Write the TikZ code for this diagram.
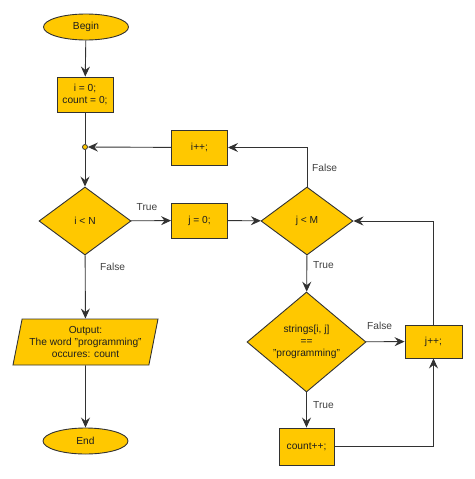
\documentclass[tikz,border=0pt]{standalone}
\usepackage{fontspec}
\setmainfont{Liberation Sans}
\usetikzlibrary{shapes.geometric,arrows.meta,calc}
\definecolor{fillY}{RGB}{255,200,0}
\definecolor{edgeC}{RGB}{50,50,50}
\definecolor{txtC}{RGB}{30,30,30}
\begin{document}
\begin{tikzpicture}[x=1pt,y=-1pt,
  every node/.style={font=\fontsize{10.2}{12.3}\selectfont, text=txtC},
  base/.style={draw=edgeC, fill=fillY, line width=0.9pt, inner sep=0pt, align=center},
  term/.style={base, ellipse, minimum width=85pt, minimum height=26pt},
  procbox/.style={base, rectangle, minimum width=56pt, minimum height=35pt},
  decide/.style={base, diamond, inner sep=-10pt},
  iobox/.style={base, trapezium, trapezium left angle=74, trapezium right angle=106, trapezium stretches body, minimum width=145pt, minimum height=46pt},
  lbl/.style={text=txtC!85, anchor=west, inner sep=0pt},
  conn/.style={draw=edgeC, line width=0.9pt, -{Stealth[length=10pt,width=9pt,inset=3.5pt]}},
  plain/.style={draw=edgeC, line width=0.9pt}
]
\useasboundingbox (0,0) rectangle (474,479);
\node[term] (begin) at (86,27) {Begin};
\node[procbox] (init) at (85,94.5) {i = 0;\\count = 0;};
\node[circle, draw=edgeC, fill=fillY, line width=0.8pt, inner sep=0pt, minimum size=5pt] (junc) at (85,147) {};
\node[decide, minimum width=92pt, minimum height=68pt] (iN) at (85,221) {i {<} N};
\node[procbox] (iinc) at (199.5,147.5) {i++;};
\node[procbox] (j0) at (199.5,220.5) {j = 0;};
\node[decide, minimum width=92pt, minimum height=68pt] (jM) at (307,221) {j {<} M};
\node[decide, minimum width=119pt, minimum height=100pt] (cmp) at (306.5,342) {strings[i, j]\\==\\"programming"};
\node[procbox, minimum width=57pt, minimum height=33pt] (jinc) at (433.5,341.5) {j++;};
\node[procbox, minimum width=55pt, minimum height=37pt] (cinc) at (306.5,446.5) {count++;};
\node[iobox] (out) at (85.5,342) {Output:\\The word "programming"\\occures: count};
\node[term] (end) at (85.5,441) {End};

\draw[conn] (begin) -- (init);
\draw[plain] (init) -- (junc);
\draw[conn] (junc) -- (iN);
\draw[conn] (iN) -- (j0);
\draw[conn] (j0) -- (jM);
\draw[conn] (jM.north) |- (iinc.east);
\draw[conn] (iinc) -- (junc);
\draw[conn] (jM) -- (cmp);
\draw[conn] (cmp) -- (jinc);
\draw[conn] (cmp) -- (cinc);
\draw[conn] (cinc.east) -| (jinc.south);
\draw[conn] (jinc.north) |- (jM.east);
\draw[conn] (iN) -- (out);
\draw[conn] (out) -- (end);

\node[lbl, anchor=center] (lT1) at (147,207) {True};
\node[lbl] (lF1) at (100,267) {False};
\node[lbl] (lT2) at (313,265) {True};
\node[lbl] (lF2) at (312,168) {False};
\node[lbl] (lF3) at (367,326) {False};
\node[lbl] (lT3) at (313,405) {True};
\end{tikzpicture}
\end{document}
